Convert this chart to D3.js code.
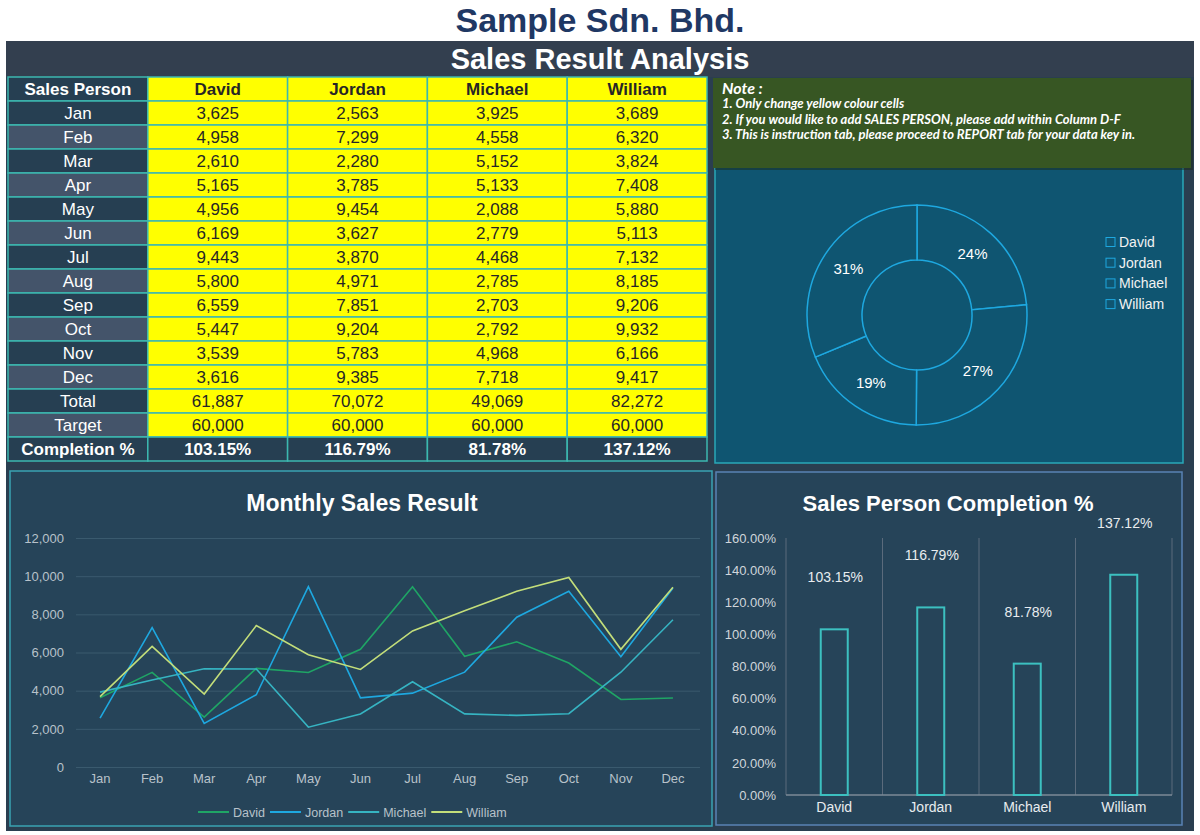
<!DOCTYPE html>
<html>
<head>
<meta charset="utf-8">
<script src="https://cdn.jsdelivr.net/npm/d3@7"></script>
<style>
  body { margin: 0; background: #fff; }
  svg { display: block; font-family: "Liberation Sans", Arial, sans-serif; }
</style>
</head>
<body>
<div id="chart"></div>
<script>
// data
var months = ["Jan", "Feb", "Mar", "Apr", "May", "Jun", "Jul", "Aug", "Sep", "Oct", "Nov", "Dec"];
var people = ["David", "Jordan", "Michael", "William"];
var david   = [3625, 4958, 2610, 5165, 4956, 6169, 9443, 5800, 6559, 5447, 3539, 3616];
var jordan  = [2563, 7299, 2280, 3785, 9454, 3627, 3870, 4971, 7851, 9204, 5783, 9385];
var michael = [3925, 4558, 5152, 5133, 2088, 2779, 4468, 2785, 2703, 2792, 4968, 7718];
var william = [3689, 6320, 3824, 7408, 5880, 5113, 7132, 8185, 9206, 9932, 6166, 9417];
var targets = [60000, 60000, 60000, 60000];
var lineTicks = [0, 2000, 4000, 6000, 8000, 10000, 12000];
var pctTicks = [0, 0.2, 0.4, 0.6, 0.8, 1.0, 1.2, 1.4, 1.6];
var noteLines = [
  "1. Only change yellow colour cells",
  "2.  If you would like to add SALES PERSON, please add within Column D-F",
  "3. This is instruction tab, please proceed to REPORT tab for your data key in."
];

var series = [david, jordan, michael, william];
var colors = ["#1fa565", "#1ea8e0", "#36b4c2", "#c3de7a"];
var totals = series.map(function (s) { return d3.sum(s); });
var completion = totals.map(function (t, i) { return t / targets[i]; });

var fmtNum = d3.format(",");
// round half up like the spreadsheet does
function fmtPct(v) {
  return (Math.round(v * 1e4 + 1e-6) / 100).toFixed(2) + "%";
}

var svg = d3.select("#chart").append("svg")
  .attr("width", 1200).attr("height", 835);

// page title
svg.append("text")
  .attr("x", 600).attr("y", 32)
  .attr("text-anchor", "middle")
  .attr("font-size", 34).attr("font-weight", "bold")
  .attr("fill", "#1f3864")
  .text("Sample Sdn. Bhd.");

// dark panel + header band
svg.append("rect").attr("x", 6).attr("y", 41).attr("width", 1188).attr("height", 790).attr("fill", "#2a3e50");
svg.append("rect").attr("x", 6).attr("y", 41).attr("width", 1188).attr("height", 36).attr("fill", "#333f4f");
svg.append("text")
  .attr("x", 600).attr("y", 69)
  .attr("text-anchor", "middle")
  .attr("font-size", 29).attr("font-weight", "bold")
  .attr("fill", "#ffffff")
  .text("Sales Result Analysis");

// ---------- table ----------
var rowKeys = ["Sales Person"].concat(months, ["Total", "Target", "Completion %"]);
var colKeys = ["label"].concat(people);
var cx = d3.scaleBand().domain(colKeys).range([8, 707]);
var ry = d3.scaleBand().domain(rowKeys).range([77, 461]);

function cellValue(row, pi) {
  var mi = months.indexOf(row);
  if (row === "Sales Person") return people[pi];
  if (mi >= 0) return fmtNum(series[pi][mi]);
  if (row === "Total") return fmtNum(totals[pi]);
  if (row === "Target") return fmtNum(targets[pi]);
  return fmtPct(completion[pi]);
}

var table = svg.append("g");
rowKeys.forEach(function (row, ri) {
  colKeys.forEach(function (col, ci) {
    var fill, txtFill, bold;
    if (ci === 0) {
      fill = (ri % 2 === 0 && ri !== 0) ? "#44546a" : "#263f52";
      txtFill = "#ffffff";
      bold = (ri === 0 || row === "Completion %");
    } else if (row === "Completion %") {
      fill = "#263f52"; txtFill = "#ffffff"; bold = true;
    } else {
      fill = "#ffff00"; txtFill = "#262626"; bold = (ri === 0);
    }
    table.append("rect")
      .attr("x", cx(col)).attr("y", ry(row))
      .attr("width", cx.bandwidth()).attr("height", ry.bandwidth())
      .attr("fill", fill)
      .attr("stroke", "#3cb8b0").attr("stroke-width", 1.5);
    table.append("text")
      .attr("x", cx(col) + cx.bandwidth() / 2)
      .attr("y", ry(row) + ry.bandwidth() / 2 + 6)
      .attr("text-anchor", "middle")
      .attr("font-size", 17)
      .attr("font-weight", bold ? "bold" : "normal")
      .attr("fill", txtFill)
      .text(ci === 0 ? row : cellValue(row, ci - 1));
  });
});

// ---------- donut panel ----------
svg.append("rect").attr("x", 715).attr("y", 150).attr("width", 468).attr("height", 313)
  .attr("fill", "#0f5571").attr("stroke", "#2aa8b8").attr("stroke-width", 1.5);

// note box
svg.append("rect").attr("x", 715).attr("y", 80).attr("width", 478).attr("height", 90)
  .attr("fill", "#1b2a1a").attr("opacity", 0.5);
svg.append("rect").attr("x", 713).attr("y", 78).attr("width", 478).attr("height", 90)
  .attr("fill", "#375623");
svg.append("text").attr("x", 722).attr("y", 94)
  .attr("font-family", "Lato, 'Open Sans', sans-serif")
  .attr("font-style", "italic").attr("font-weight", "bold")
  .attr("font-size", 16).attr("fill", "#ffffff")
  .text("Note :");
svg.selectAll(".note").data(noteLines).enter().append("text")
  .attr("x", 722).attr("y", function (d, i) { return 108 + i * 15.6; })
  .attr("font-family", "Lato, 'Open Sans', sans-serif")
  .attr("font-style", "italic").attr("font-weight", "bold")
  .attr("font-size", 13).attr("fill", "#ffffff")
  .text(function (d) { return d; });

// donut
var pie = d3.pie().sort(null).value(function (d) { return d; });
var arc = d3.arc().innerRadius(55).outerRadius(110);
var donut = svg.append("g").attr("transform", "translate(917,315)");
var arcs = pie(totals);
var grandTotal = d3.sum(totals);
donut.selectAll("path").data(arcs).enter().append("path")
  .attr("d", arc)
  .attr("fill", "#0f5571")
  .attr("stroke", "#1ea8e0").attr("stroke-width", 1.5);
donut.selectAll("text").data(arcs).enter().append("text")
  .attr("transform", function (d) { var c = arc.centroid(d); return "translate(" + c[0] + "," + (c[1] + 5) + ")"; })
  .attr("text-anchor", "middle")
  .attr("font-size", 15).attr("fill", "#ffffff")
  .text(function (d) { return d3.format(".0%")(d.data / grandTotal); });

var dleg = svg.append("g").attr("transform", "translate(1106,242)");
people.forEach(function (p, i) {
  dleg.append("rect").attr("x", 0).attr("y", i * 20.7 - 4.5).attr("width", 9).attr("height", 9)
    .attr("fill", "none").attr("stroke", "#1ea8e0").attr("stroke-width", 1);
  dleg.append("text").attr("x", 13).attr("y", i * 20.7 + 5)
    .attr("font-size", 14).attr("fill", "#f2f2f2").text(p);
});

// ---------- line chart ----------
svg.append("rect").attr("x", 10).attr("y", 471).attr("width", 702).attr("height", 355)
  .attr("fill", "#264459").attr("stroke", "#3aa3b2").attr("stroke-width", 1.5);
svg.append("text").attr("x", 362).attr("y", 511)
  .attr("text-anchor", "middle").attr("font-size", 23).attr("font-weight", "bold")
  .attr("fill", "#ffffff").text("Monthly Sales Result");

var lx = d3.scaleBand().domain(months).range([74, 699]);
var ly = d3.scaleLinear().domain([0, 12000]).range([767, 538]);

var lyAxis = svg.append("g").attr("transform", "translate(76,0)")
  .call(d3.axisLeft(ly).tickValues(lineTicks).tickSize(-624).tickFormat(d3.format(",")));
lyAxis.select(".domain").remove();
lyAxis.selectAll(".tick line").attr("stroke", "#3a5a6e").attr("stroke-width", 1);
lyAxis.selectAll(".tick text").attr("x", -12).attr("font-size", 13).attr("fill", "#b8c2ca")
  .attr("font-family", "'Liberation Sans', Arial, sans-serif");

var lxAxis = svg.append("g").attr("transform", "translate(0,767)")
  .call(d3.axisBottom(lx).tickSize(0));
lxAxis.select(".domain").remove();
lxAxis.selectAll(".tick text").attr("dy", 0).attr("y", 16).attr("font-size", 13).attr("fill", "#b8c2ca")
  .attr("font-family", "'Liberation Sans', Arial, sans-serif");

var line = d3.line()
  .x(function (d, i) { return lx(months[i]) + lx.bandwidth() / 2; })
  .y(function (d) { return ly(d); });
series.forEach(function (s, i) {
  svg.append("path").datum(s)
    .attr("d", line)
    .attr("fill", "none")
    .attr("stroke", colors[i]).attr("stroke-width", 1.6);
});

// legend
var lleg = svg.append("g").attr("transform", "translate(198,812)");
var lpos = 0;
people.forEach(function (p, i) {
  lleg.append("line").attr("x1", lpos).attr("x2", lpos + 31).attr("y1", 0).attr("y2", 0)
    .attr("stroke", colors[i]).attr("stroke-width", 2);
  var t = lleg.append("text").attr("x", lpos + 35).attr("y", 4.5)
    .attr("font-size", 12.5).attr("fill", "#b8c2ca").text(p);
  lpos += 35 + t.node().getComputedTextLength() + 5;
});

// ---------- completion bar chart ----------
svg.append("rect").attr("x", 716).attr("y", 472).attr("width", 466).attr("height", 353)
  .attr("fill", "#264459").attr("stroke", "#5a82b4").attr("stroke-width", 1.5);
svg.append("text").attr("x", 948).attr("y", 511)
  .attr("text-anchor", "middle").attr("font-size", 22).attr("font-weight", "bold")
  .attr("fill", "#ffffff").text("Sales Person Completion %");

var bx = d3.scaleBand().domain(people).range([786, 1172]);
var by = d3.scaleLinear().domain([0, 1.6]).range([795, 538]);

var byAxis = svg.append("g").attr("transform", "translate(786,0)")
  .call(d3.axisLeft(by).tickValues(pctTicks).tickSize(0).tickFormat(fmtPct));
byAxis.select(".domain").remove();
byAxis.selectAll(".tick text").attr("x", -10).attr("font-size", 13).attr("fill", "#d0d6db")
  .attr("font-family", "'Liberation Sans', Arial, sans-serif");

// vertical separators
var seps = people.map(function (p) { return bx(p); }).concat([bx.range()[1]]);
svg.selectAll(".sep").data(seps).enter().append("line")
  .attr("x1", function (d) { return d; }).attr("x2", function (d) { return d; })
  .attr("y1", by(1.6)).attr("y2", by(0))
  .attr("stroke", "#5b6b7c").attr("stroke-width", 1);
svg.append("line").attr("x1", 786).attr("x2", 1172).attr("y1", by(0)).attr("y2", by(0))
  .attr("stroke", "#7d8a97").attr("stroke-width", 1.5);

var bw = 27;
svg.selectAll(".bar").data(completion).enter().append("rect")
  .attr("x", function (d, i) { return bx(people[i]) + bx.bandwidth() / 2 - bw / 2; })
  .attr("y", function (d) { return by(d); })
  .attr("width", bw)
  .attr("height", function (d) { return by(0) - by(d); })
  .attr("fill", "#264459")
  .attr("stroke", "#3cc0c0").attr("stroke-width", 2);
svg.selectAll(".blabel").data(completion).enter().append("text")
  .attr("x", function (d, i) { return bx(people[i]) + bx.bandwidth() / 2 + 1; })
  .attr("y", function (d) { return by(d) - 47; })
  .attr("text-anchor", "middle").attr("font-size", 14).attr("fill", "#e8ecef")
  .text(function (d) { return fmtPct(d); });

var bxAxis = svg.append("g").attr("transform", "translate(0,795)")
  .call(d3.axisBottom(bx).tickSize(0));
bxAxis.select(".domain").remove();
bxAxis.selectAll(".tick text").attr("dy", 0).attr("y", 17).attr("font-size", 14).attr("fill", "#e8ecef")
  .attr("font-family", "'Liberation Sans', Arial, sans-serif");
</script>
</body>
</html>
